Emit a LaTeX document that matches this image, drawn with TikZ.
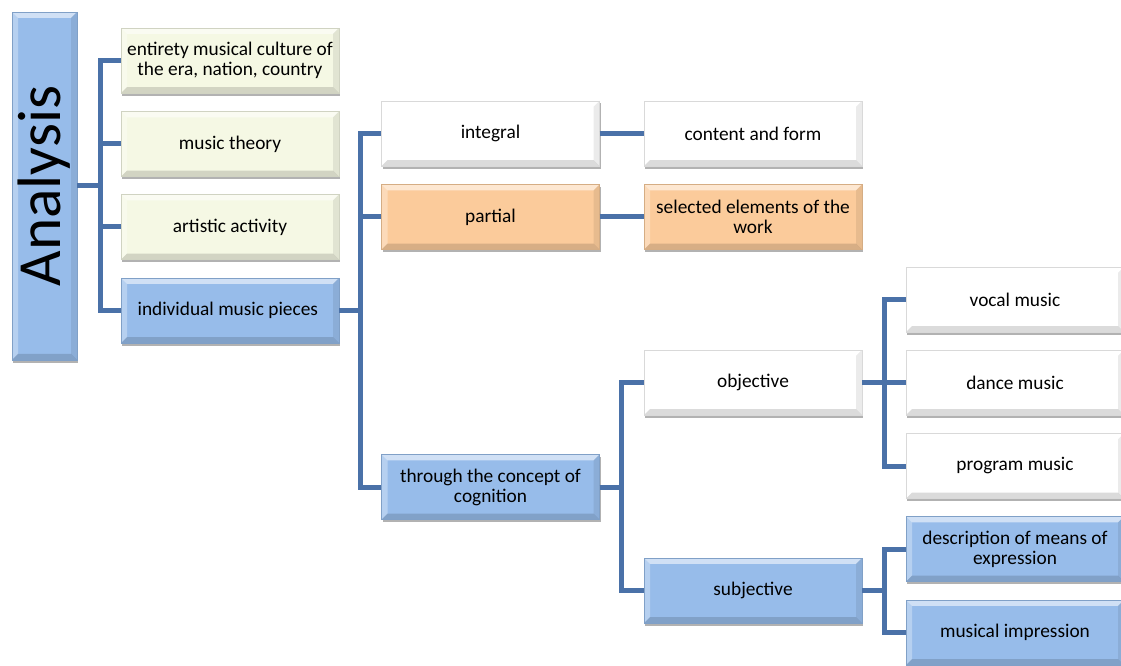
\documentclass[tikz,border=0pt]{standalone}
\usepackage{fontspec}
\setmainfont{Carlito}
\usepackage{tikz}
\usetikzlibrary{positioning,shadows}

\definecolor{paleyel}{HTML}{F5F8E4}
\definecolor{skyblu}{HTML}{97BCEA}
\definecolor{peach}{HTML}{FBCB9B}
\definecolor{linkblu}{HTML}{4A71A8}

\tikzset{
	bevel/.style={
		path picture={
			\fill[white,opacity=0.55] (path picture bounding box.north west) -- (path picture bounding box.north east)
				-- ([xshift=-4.5pt,yshift=-4.5pt]path picture bounding box.north east) -- ([xshift=4.5pt,yshift=-4.5pt]path picture bounding box.north west) -- cycle;
			\fill[white,opacity=0.3] (path picture bounding box.north west) -- ([xshift=4.5pt,yshift=-4.5pt]path picture bounding box.north west)
				-- ([xshift=4.5pt,yshift=4.5pt]path picture bounding box.south west) -- (path picture bounding box.south west) -- cycle;
			\fill[black,opacity=0.14] (path picture bounding box.south west) -- (path picture bounding box.south east)
				-- ([xshift=-4.5pt,yshift=4.5pt]path picture bounding box.south east) -- ([xshift=4.5pt,yshift=4.5pt]path picture bounding box.south west) -- cycle;
			\fill[black,opacity=0.08] (path picture bounding box.north east) -- ([xshift=-4.5pt,yshift=-4.5pt]path picture bounding box.north east)
				-- ([xshift=-4.5pt,yshift=4.5pt]path picture bounding box.south east) -- (path picture bounding box.south east) -- cycle;
		}},
	boxbase/.style={rectangle, fill=#1, draw=#1!85!black, line width=0.3pt, bevel, inner sep=0pt,
		drop shadow={shadow xshift=1pt, shadow yshift=-2pt, opacity=0.3, fill=black}},
	box/.style={boxbase=#1, minimum width=163.5pt, minimum height=49pt,
		align=center, font=\fontsize{14.5}{15}\selectfont},
	link/.style={draw=linkblu, line width=3.75pt}
}

\begin{document}
\begin{tikzpicture}[x=0.75pt,y=-0.75pt]
	\useasboundingbox (0,0) rectangle (1121,666);
	
	\node[boxbase=skyblu, minimum width=48.75pt, minimum height=261pt,
		font=\fontsize{46}{50}\selectfont] (ana) at (44.5,186) {\rotatebox{90}{Analysis}};
	
	\foreach \n/\y/\c/\t in {
		ent/60.5/paleyel/{entirety musical culture of\\the era, nation, country},
		theo/144/paleyel/{music theory},
		art/227/paleyel/{artistic activity},
		ind/310.5/skyblu/{individual music pieces}
	}
	{
		\node[box=\c] (\n) at (230,\y) {\t};
		\draw[link] (ana.east) -- ++(23,0) |- (\n.west);
	}
	
	\node[box=white] (int) at (490.5,133.5) {integral};
	\node[box=peach] (part) at (490.5,217) {partial};
	\node[box=skyblu] (cog) at (490.5,487) {through the concept of\\cognition};
	
	\node[box=white] (form) at (753,133.5) {content and form};
	\node[box=peach] (sel) at (753,217) {selected elements of the\\work};
	\node[box=white] (obj) at (753,382.5) {objective};
	\node[box=skyblu] (subj) at (753,590.5) {subjective};
	
	\node[box=white] (voc) at (1015,299.5) {vocal music};
	\node[box=white] (dance) at (1015,382.5) {dance music};
	\node[box=white] (prog) at (1015,466) {program music};
	\node[box=skyblu] (desc) at (1015,549) {description of means of\\expression};
	\node[box=skyblu] (imp) at (1015,632.5) {musical impression};
	
	% connectors
	\foreach \n in {int,part,cog}
		\draw[link] (ind.east) -- ++(21,0) |- (\n.west);
	\draw[link] (int.east) -- (form.west);
	\draw[link] (part.east) -- (sel.west);
	\foreach \n in {obj,subj}
		\draw[link] (cog.east) -- ++(22,0) |- (\n.west);
	\foreach \n in {voc,dance,prog}
		\draw[link] (obj.east) -- ++(22,0) |- (\n.west);
	\foreach \n in {desc,imp}
		\draw[link] (subj.east) -- ++(22,0) |- (\n.west);
	
\end{tikzpicture}
\end{document}
